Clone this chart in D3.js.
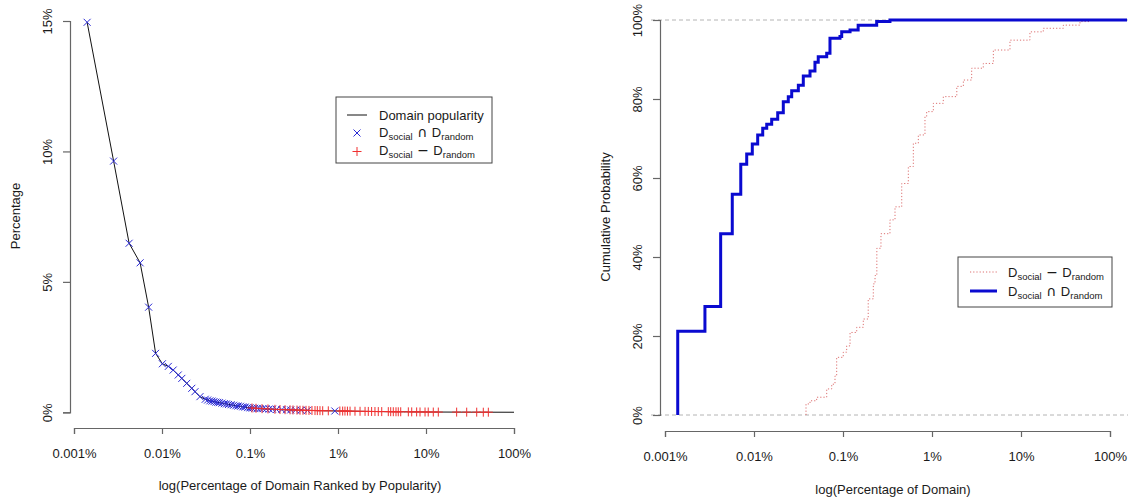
<!DOCTYPE html>
<html><head><meta charset="utf-8">
<script src="https://cdn.jsdelivr.net/npm/d3@7"></script>
<style>
body{margin:0;background:#fff}
svg{display:block}
text{font-family:"Liberation Sans",Arial,Helvetica,sans-serif}
</style>
</head><body>
<svg id="c" width="1133" height="499"></svg>
<script>
// ---------- data ----------
// Left: domain popularity curve (x = % of domain ranked by popularity, y = percentage)
const popX = [0.00141,0.00282,0.00423,0.00564,0.00705,0.00846,0.0101,0.0118,0.0134,0.0153,0.0168,0.0191,0.0218,0.0237,0.027,0.031,0.035,0.04,0.05,0.06,0.07,0.08,0.1,0.15,0.2,0.3,0.5,1,2,5,10,30,100];
const popY = [14.95,9.63,6.48,5.73,4.03,2.26,1.86,1.76,1.62,1.43,1.30,1.11,0.92,0.79,0.60,0.50,0.44,0.40,0.34,0.29,0.25,0.22,0.17,0.13,0.11,0.09,0.07,0.05,0.035,0.02,0.012,0.006,0.002];

// Left: markers for D_social ∩ D_random
const interX = [0.00141,0.00282,0.00423,0.00564,0.00705,0.00846,0.0101,0.0118,0.0134,0.0153,0.0168,0.0191,0.0218,0.0237,0.027,0.031,0.033,0.035,0.037,0.039,0.041,0.043,0.045,0.048,0.051,0.054,0.057,0.061,0.065,0.069,0.073,0.078,0.083,0.088,0.094,0.1,0.106,0.113,0.121,0.13,0.14,0.152,0.165,0.18,0.2,0.23,0.26,0.29,0.33,0.38,0.45,0.92];
const interY = [14.95,9.63,6.48,5.73,4.03,2.26,1.86,1.76,1.62,1.43,1.30,1.11,0.92,0.79,0.60,0.50,0.47,0.44,0.43,0.41,0.39,0.38,0.37,0.35,0.33,0.32,0.30,0.29,0.27,0.25,0.24,0.23,0.21,0.20,0.18,0.17,0.16,0.155,0.15,0.145,0.14,0.13,0.125,0.12,0.11,0.105,0.10,0.09,0.085,0.08,0.075,0.05];

// Left: markers for D_social − D_random
const diffX = [0.1054,0.117,0.137,0.160,0.192,0.219,0.250,0.285,0.308,0.342,0.370,0.400,0.433,0.468,0.506,0.548,0.582,0.624,0.670,0.776,1.05,1.13,1.20,1.28,1.37,1.56,1.78,2.03,2.21,2.41,2.63,2.87,3.14,3.73,3.97,4.25,4.56,4.84,5.16,6.30,6.88,7.83,8.55,9.75,10.6,12.1,13.8,22.3,29.0,37.7,44.8,51.1];
const diffY = [0.165,0.155,0.14,0.13,0.115,0.105,0.10,0.095,0.09,0.085,0.08,0.078,0.075,0.072,0.07,0.067,0.065,0.063,0.06,0.056,0.05,0.048,0.047,0.046,0.045,0.042,0.039,0.035,0.033,0.031,0.03,0.028,0.027,0.025,0.024,0.022,0.021,0.02,0.02,0.017,0.016,0.014,0.013,0.012,0.011,0.01,0.009,0.007,0.006,0.005,0.004,0.004];

// Right: empirical CDF steps (x = % of domain, y = cumulative %)
const cdfInterX = [0.00139,0.00281,0.00422,0.0057,0.0071,0.00828,0.00957,0.0110,0.01253,0.0139,0.0158,0.01847,0.02134,0.02428,0.02652,0.0315,0.0358,0.0426,0.0484,0.0527,0.0656,0.0714,0.0925,0.0967,0.120,0.148,0.239,0.337];
const cdfInterY = [21.2,27.5,45.9,55.9,63.5,66.1,68.6,70.9,72.6,73.6,74.9,76.5,79.3,80.6,82.1,83.5,85.8,87.1,89.3,90.7,91.6,95.4,95.8,97.0,97.5,98.7,99.6,100];
const cdfDiffX = [0.0384,0.0426,0.0506,0.0656,0.0747,0.0813,0.0849,0.1007,0.110,0.120,0.1426,0.169,0.192,0.219,0.229,0.24,0.267,0.337,0.384,0.457,0.542,0.617,0.702,0.834,0.871,1.035,1.34,1.90,2.25,2.79,3.77,4.89,7.52,12.6,17.8,29.9,46.0,59.6];
const cdfDiffY = [2.8,3.6,4.5,6.6,7.8,9.9,14.6,15.9,17.5,20.9,22.2,24.3,29.4,33.2,35.3,42.2,45.9,49.4,52.7,58.6,62.9,68.8,70.9,75.5,76.8,78.9,80.6,83.2,84.8,87.8,89.0,92.4,94.9,97.0,97.9,98.7,99.6,100];

// Ticks
const xTickValues = [0.001,0.01,0.1,1,10,100];
const xTickLabels = ["0.001%","0.01%","0.1%","1%","10%","100%"];
const leftYTicks = [0,5,10,15];
const leftYLabels = ["0%","5%","10%","15%"];
const rightYTicks = [0,20,40,60,80,100];
const rightYLabels = ["0%","20%","40%","60%","80%","100%"];

// ---------- drawing ----------
const svg = d3.select("#c");
const AX = "#666", TXT = "#1a1a1a";
const BLUE_MK = "#2a2ad6", RED_MK = "#f03030", BLUE_LN = "#0a0ad0", RED_LN = "#dc7070";

function axes(x, y, xAxisY, yAxisX, yTicks, yLabels){
  const gx = svg.append("g").attr("transform", `translate(0,${xAxisY})`)
    .call(d3.axisBottom(x).tickValues(xTickValues).tickFormat((d,i)=>xTickLabels[i]).tickSizeOuter(0).tickSize(6));
  const gy = svg.append("g").attr("transform", `translate(${yAxisX},0)`)
    .call(d3.axisLeft(y).tickValues(yTicks).tickFormat((d,i)=>yLabels[i]).tickSizeOuter(0).tickSize(7));
  [gx, gy].forEach(g=>{
    g.select(".domain").attr("stroke", AX).attr("stroke-width", 1.2);
    g.selectAll(".tick line").attr("stroke", AX).attr("stroke-width", 1.2);
    g.selectAll(".tick text").attr("fill", TXT).attr("font-size", 13);
  });
  gx.selectAll(".tick text").attr("y", 30).attr("dy", 0);
  gy.selectAll(".tick text").attr("x", 0).attr("y", -18).attr("dy", 0)
    .attr("transform", "rotate(-90)").attr("text-anchor", "middle");
}

function richText(sel, parts){
  parts.forEach(([t, kind])=>{
    const ts = sel.append("tspan").text(t);
    if (kind === "sub") ts.attr("font-size", 9.5).attr("dy", 3);
    else if (kind === "op") ts.attr("font-size", 14).attr("dy", -3)
      .attr("font-family", "'DejaVu Sans', sans-serif");
    else ts.attr("font-size", 13);
  });
}
const interParts = [["D"],["social","sub"],[" \u2229 ","op"],["D"],["random","sub"]];
const diffParts  = [["D"],["social","sub"],[" \u2212 ","op"],["D"],["random","sub"]];

// ===== Left chart =====
const xL = d3.scaleLog().domain([0.001, 100]).range([74, 514]);
const yL = d3.scaleLinear().domain([0, 15]).range([412.3, 21]);
axes(xL, yL, 428, 70, leftYTicks, leftYLabels);

svg.append("text").attr("transform", "translate(20,216) rotate(-90)").attr("text-anchor","middle")
  .attr("font-size", 13).attr("fill", TXT).text("Percentage");
svg.append("text").attr("x", 300).attr("y", 490).attr("text-anchor","middle")
  .attr("font-size", 13).attr("fill", TXT).text("log(Percentage of Domain Ranked by Popularity)");

const popData = popX.map((v,i)=>[v, popY[i]]);
svg.append("path").datum(popData)
  .attr("d", d3.line().x(d=>xL(d[0])).y(d=>yL(d[1])))
  .attr("fill","none").attr("stroke","#111").attr("stroke-width",1);

const crossPath = "M-3.5,-3.5L3.5,3.5M-3.5,3.5L3.5,-3.5";
const plusPath = "M-4.5,0H4.5M0,-4.5V4.5";
svg.append("g").selectAll("path").data(interX.map((v,i)=>[v, interY[i]])).join("path")
  .attr("transform", d=>`translate(${xL(d[0])},${yL(d[1])})`)
  .attr("d", crossPath).attr("stroke", BLUE_MK).attr("stroke-width", 1).attr("fill","none");
svg.append("g").selectAll("path").data(diffX.map((v,i)=>[v, diffY[i]])).join("path")
  .attr("transform", d=>`translate(${xL(d[0])},${yL(d[1])})`)
  .attr("d", plusPath).attr("stroke", RED_MK).attr("stroke-width", 1).attr("fill","none");

// left legend
const lgL = svg.append("g");
lgL.append("rect").attr("x",336).attr("y",97).attr("width",156).attr("height",66)
  .attr("fill","#fff").attr("stroke","#444").attr("stroke-width",1);
lgL.append("line").attr("x1",347).attr("x2",367).attr("y1",115).attr("y2",115).attr("stroke","#111");
lgL.append("path").attr("transform","translate(357,133)").attr("d",crossPath).attr("stroke",BLUE_MK).attr("fill","none");
lgL.append("path").attr("transform","translate(357,151.5)").attr("d",plusPath).attr("stroke",RED_MK).attr("fill","none");
lgL.append("text").attr("x",379).attr("y",119.5).attr("font-size",13).attr("fill",TXT).text("Domain popularity");
richText(lgL.append("text").attr("x",379).attr("y",136.5).attr("fill",TXT), interParts);
richText(lgL.append("text").attr("x",379).attr("y",155).attr("fill",TXT), diffParts);

// ===== Right chart =====
const xR = d3.scaleLog().domain([0.001, 100]).range([665, 1110]);
const yR = d3.scaleLinear().domain([0, 100]).range([415, 20]);
const rightEdge = 1127;

[0, 100].forEach(v=>{
  svg.append("line").attr("x1",651).attr("x2",1128).attr("y1",yR(v)).attr("y2",yR(v))
    .attr("stroke","#b4b4b4").attr("stroke-width",1).attr("stroke-dasharray","4,3");
});
axes(xR, yR, 431, 660, rightYTicks, rightYLabels);

svg.append("text").attr("transform", "translate(610,217) rotate(-90)").attr("text-anchor","middle")
  .attr("font-size", 13).attr("fill", TXT).text("Cumulative Probability");
svg.append("text").attr("x", 893).attr("y", 494).attr("text-anchor","middle")
  .attr("font-size", 13).attr("fill", TXT).text("log(Percentage of Domain)");

function stepD(xs, ys){
  const pts = [[xs[0], 0]].concat(xs.map((v,i)=>[v, ys[i]]));
  const line = d3.line().x(d=>xR(d[0])).y(d=>yR(d[1])).curve(d3.curveStepAfter);
  return line(pts) + "H" + rightEdge;
}
svg.append("path").attr("d", stepD(cdfDiffX, cdfDiffY)).attr("fill","none")
  .attr("stroke", RED_LN).attr("stroke-width", 1).attr("stroke-dasharray","1.2,2");
svg.append("path").attr("d", stepD(cdfInterX, cdfInterY)).attr("fill","none")
  .attr("stroke", BLUE_LN).attr("stroke-width", 3);

// right legend
const lgR = svg.append("g");
lgR.append("rect").attr("x",958).attr("y",257).attr("width",154).attr("height",50)
  .attr("fill","#fff").attr("stroke","#444").attr("stroke-width",1);
lgR.append("line").attr("x1",970).attr("x2",997).attr("y1",272).attr("y2",272)
  .attr("stroke",RED_LN).attr("stroke-width",1).attr("stroke-dasharray","1.2,2");
lgR.append("line").attr("x1",970).attr("x2",997).attr("y1",291).attr("y2",291)
  .attr("stroke",BLUE_LN).attr("stroke-width",3);
richText(lgR.append("text").attr("x",1008).attr("y",277).attr("fill",TXT), diffParts);
richText(lgR.append("text").attr("x",1008).attr("y",296).attr("fill",TXT), interParts);
</script>
</body></html>
